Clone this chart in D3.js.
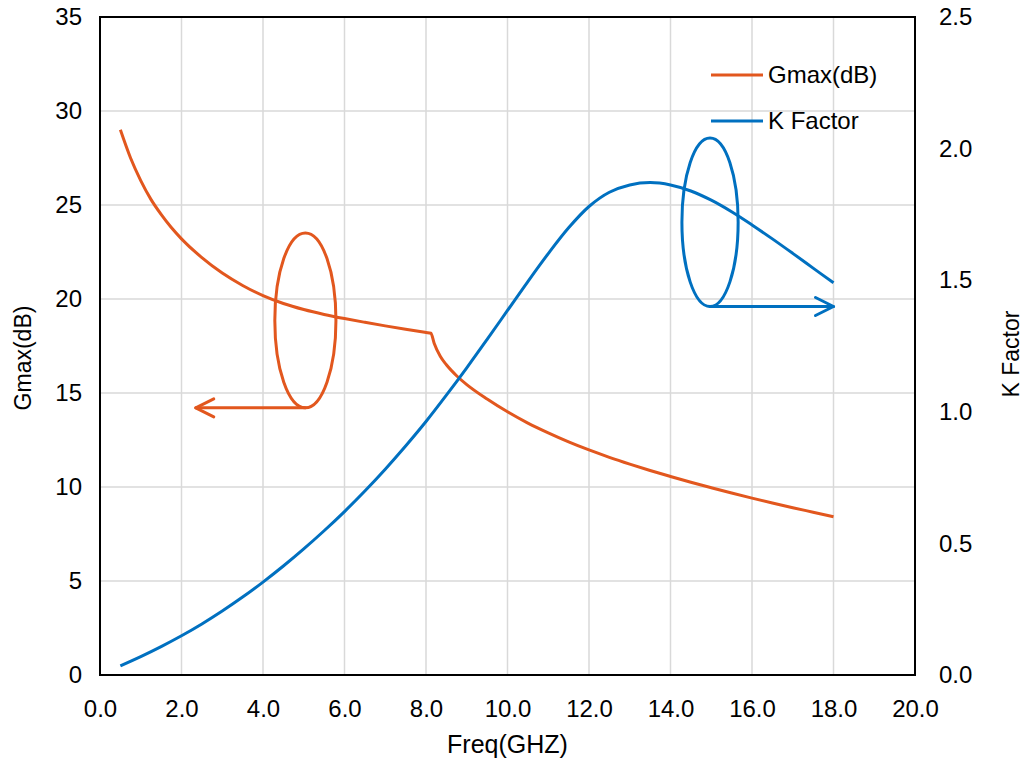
<!DOCTYPE html>
<html>
<head>
<meta charset="utf-8">
<script src="https://cdn.jsdelivr.net/npm/d3@7"></script>
<style>
  body { margin: 0; background: #fff; }
  svg { display: block; font-family: "Liberation Sans", Arial, sans-serif; }
</style>
</head>
<body>
<div id="chart"></div>
<script>
// frequency points (GHz)
const gmaxFreq = [0.5, 0.75, 1.0, 1.25, 1.5, 1.75, 2.0, 2.5, 3.0, 3.5, 4.0, 4.5, 5.0, 5.5, 6.0, 6.5,
  7.0, 7.5, 8.0, 8.12, 8.2, 8.35, 8.5, 8.75, 9.0, 9.5, 10.0, 10.5, 11.0, 11.5, 12.0, 12.5, 13.0,
  13.5, 14.0, 14.5, 15.0, 15.5, 16.0, 16.5, 17.0, 17.5, 18.0];
const gmaxValues = [29.0, 27.5, 26.3, 25.3, 24.5, 23.8, 23.2, 22.2, 21.38, 20.72, 20.18, 19.76, 19.44,
  19.18, 18.96, 18.76, 18.57, 18.39, 18.22, 18.18, 17.65, 16.95, 16.5, 15.92, 15.45, 14.68, 14.0,
  13.4, 12.88, 12.4, 11.97, 11.58, 11.22, 10.88, 10.56, 10.25, 9.96, 9.68, 9.41, 9.15, 8.9, 8.66, 8.42];

const kFreq = [0.5, 1.0, 1.5, 2.0, 2.5, 3.0, 3.5, 4.0, 4.5, 5.0, 5.5, 6.0, 6.5, 7.0, 7.5, 8.0, 8.5,
  9.0, 9.5, 10.0, 10.5, 11.0, 11.5, 12.0, 12.5, 13.0, 13.5, 14.0, 14.5, 15.0, 15.5, 16.0, 16.5,
  17.0, 17.5, 18.0];
const kValues = [0.035, 0.070, 0.108, 0.149, 0.194, 0.243, 0.296, 0.353, 0.414, 0.479, 0.548, 0.621,
  0.699, 0.782, 0.870, 0.963, 1.063, 1.167, 1.275, 1.385, 1.495, 1.601, 1.699, 1.780, 1.834, 1.862,
  1.871, 1.862, 1.839, 1.804, 1.760, 1.710, 1.657, 1.602, 1.546, 1.490];

const xTicks = [0, 2, 4, 6, 8, 10, 12, 14, 16, 18, 20];
const yLeftTicks = [0, 5, 10, 15, 20, 25, 30, 35];
const yRightTicks = [0, 0.5, 1.0, 1.5, 2.0, 2.5];

const seriesNames = ["Gmax(dB)", "K Factor"];

// annotation ellipses (data units): [centre freq, centre value, radius freq, radius value, arrow end freq]
const gmaxMarker = [5.04, 18.86, 0.75, 4.65, 2.35];
const kMarker = [14.97, 1.72, 0.69, 0.32, 18.0];

const orange = "#E2571E";
const blue = "#0070C0";

const width = 1026, height = 764;
const margin = { top: 17, right: 111, bottom: 89, left: 100 };

const svg = d3.select("#chart").append("svg")
  .attr("width", width)
  .attr("height", height);

const x = d3.scaleLinear().domain([0, 20]).range([margin.left, width - margin.right]);
const yL = d3.scaleLinear().domain([0, 35]).range([height - margin.bottom, margin.top]);
const yR = d3.scaleLinear().domain([0, 2.5]).range([height - margin.bottom, margin.top]);

// grid
const grid = svg.append("g").attr("stroke", "#D9D9D9").attr("stroke-width", 1.5);
grid.selectAll("line.v").data(xTicks).join("line")
  .attr("x1", d => x(d)).attr("x2", d => x(d))
  .attr("y1", yL(0)).attr("y2", yL(35));
grid.selectAll("line.h").data(yLeftTicks).join("line")
  .attr("x1", x(0)).attr("x2", x(20))
  .attr("y1", d => yL(d)).attr("y2", d => yL(d));

// axes (labels only, no tick marks)
const fs = 24;
const xAxis = svg.append("g")
  .attr("transform", `translate(0,${yL(0)})`)
  .call(d3.axisBottom(x).tickValues(xTicks).tickFormat(d3.format(".1f")).tickSize(0).tickPadding(22));
const yAxisL = svg.append("g")
  .attr("transform", `translate(${x(0)},0)`)
  .call(d3.axisLeft(yL).tickValues(yLeftTicks).tickSize(0).tickPadding(18));
const yAxisR = svg.append("g")
  .attr("transform", `translate(${x(20)},0)`)
  .call(d3.axisRight(yR).tickValues(yRightTicks).tickFormat(d3.format(".1f")).tickSize(0).tickPadding(24));
[xAxis, yAxisL, yAxisR].forEach(a => {
  a.select(".domain").remove();
  a.selectAll("text").attr("font-size", fs).attr("font-family", "Liberation Sans, Arial, sans-serif").attr("fill", "#000");
});
xAxis.selectAll("text").attr("dy", "0.32em").attr("y", 34);

// frame
svg.append("rect")
  .attr("x", x(0)).attr("y", yL(35))
  .attr("width", x(20) - x(0)).attr("height", yL(0) - yL(35))
  .attr("fill", "none").attr("stroke", "#000").attr("stroke-width", 2);

// series
const gLine = d3.line().curve(d3.curveMonotoneX);
const kLine = d3.line().curve(d3.curveCatmullRom.alpha(0.5));
svg.append("path")
  .datum(gmaxFreq.map((f, i) => [x(f), yL(gmaxValues[i])]))
  .attr("d", gLine)
  .attr("fill", "none").attr("stroke", orange).attr("stroke-width", 3);
svg.append("path")
  .datum(kFreq.map((f, i) => [x(f), yR(kValues[i])]))
  .attr("d", kLine)
  .attr("fill", "none").attr("stroke", blue).attr("stroke-width", 3);

// ellipse + arrow markers
function marker(m, yScale, color) {
  const [cf, cv, rf, rv, endF] = m;
  const cx = x(cf), cy = yScale(cv);
  const rx = x(cf + rf) - cx, ry = cy - yScale(cv + rv);
  const g = svg.append("g").attr("fill", "none").attr("stroke", color).attr("stroke-width", 3)
    .attr("stroke-linecap", "round").attr("stroke-linejoin", "round");
  g.append("ellipse").attr("cx", cx).attr("cy", cy).attr("rx", rx).attr("ry", ry);
  const by = cy + ry, ex = x(endF);
  const dir = ex > cx ? 1 : -1;
  g.append("line").attr("x1", cx).attr("y1", by).attr("x2", ex).attr("y2", by);
  g.append("path").attr("d", `M${ex - dir * 18},${by - 9}L${ex},${by}L${ex - dir * 18},${by + 9}`);
}
marker(gmaxMarker, yL, orange);
marker(kMarker, yR, blue);

// axis titles
svg.append("text")
  .attr("x", (x(0) + x(20)) / 2).attr("y", 753)
  .attr("text-anchor", "middle").attr("font-size", 25)
  .text("Freq(GHZ)");
svg.append("text")
  .attr("transform", `translate(31,${(yL(0) + yL(35)) / 2 + 12}) rotate(-90)`)
  .attr("text-anchor", "middle").attr("font-size", 23)
  .text(seriesNames[0]);
svg.append("text")
  .attr("transform", `translate(1019,${(yL(0) + yL(35)) / 2 + 8}) rotate(-90)`)
  .attr("text-anchor", "middle").attr("font-size", 23)
  .text(seriesNames[1]);

// legend
const legend = svg.append("g").attr("transform", "translate(711,75)");
[orange, blue].forEach((c, i) => {
  const row = legend.append("g").attr("transform", `translate(0,${i * 46})`);
  row.append("line").attr("x1", 0).attr("x2", 52).attr("stroke", c).attr("stroke-width", 3);
  row.append("text").attr("x", 57).attr("dy", "0.35em").attr("font-size", 24).text(seriesNames[i]);
});
</script>
</body>
</html>
